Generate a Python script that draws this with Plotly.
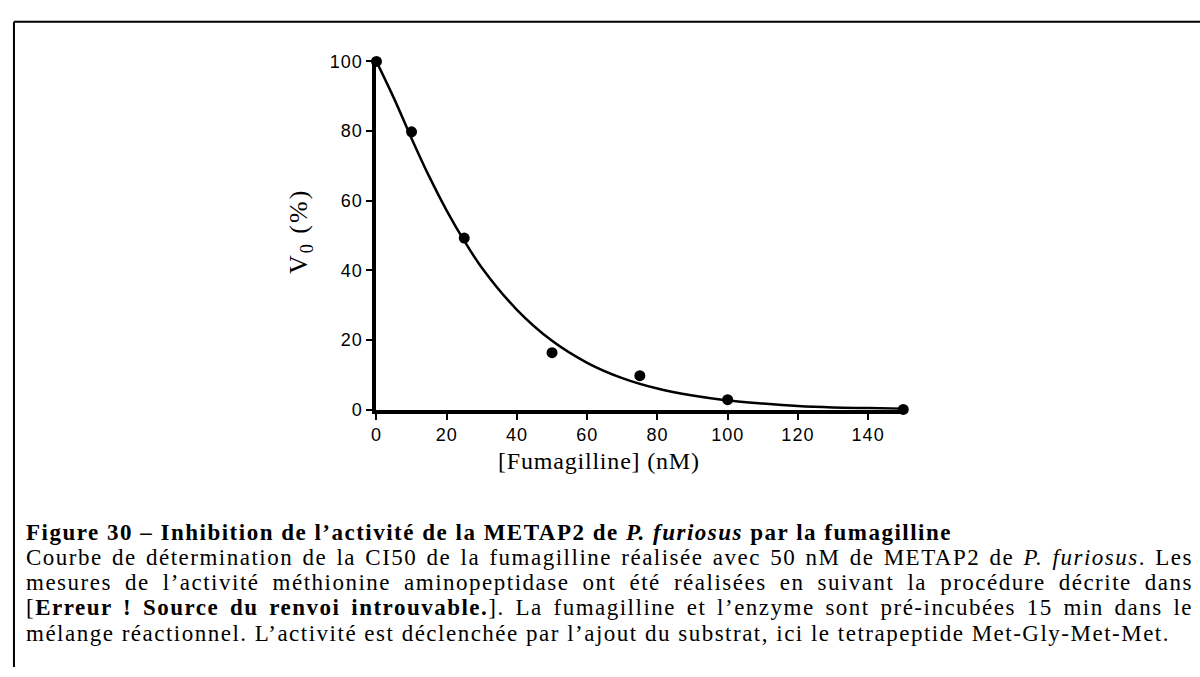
import plotly.graph_objects as go

# measured points
conc_nM = [0, 10, 25, 50, 75, 100, 150]
v0_pct = [100, 79.8, 49.3, 16.4, 9.8, 2.9, 0.1]

# fitted curve
fit_x = [0, 5, 10, 15, 20, 25, 30, 40, 50, 60, 70, 80, 90, 100, 110, 120, 130, 140, 150]
fit_y = [100, 89.4, 77.9, 67.0, 57.2, 48.5, 40.8, 28.7, 19.8, 13.5, 9.1, 6.1, 4.1, 2.7, 1.8, 1.1, 0.7, 0.5, 0.3]

x_ticks = [0, 20, 40, 60, 80, 100, 120, 140]
y_ticks = [0, 20, 40, 60, 80, 100]

x_title = "[Fumagilline] (nM)"
y_title = "V<sub>0</sub> (%)"

caption = [
    "<b>Figure 30 – Inhibition de l’activité de la METAP2 de <i>P. furiosus</i> par la fumagilline</b>",
    "Courbe de détermination de la CI50 de la fumagilline réalisée avec 50 nM de METAP2 de <i>P. furiosus</i>. Les",
    "mesures de l’activité méthionine aminopeptidase ont été réalisées en suivant la procédure décrite dans",
    "[<b>Erreur ! Source du renvoi introuvable.</b>]. La fumagilline et l’enzyme sont pré-incubées 15 min dans le",
    "mélange réactionnel. L’activité est déclenchée par l’ajout du substrat, ici le tetrapeptide Met-Gly-Met-Met.",
]

W, H = 1200, 677
SERIF = "Liberation Serif, Times New Roman, serif"
SANS = "Liberation Sans, Arial, sans-serif"
CAP_SIZE = 23
CAP_LEFT = 19


def px(x):
    return x / W


def py(y):
    return 1 - y / H


fig = go.Figure()

fig.add_trace(go.Scatter(x=fit_x, y=fit_y, mode='lines',
                         line=dict(color='black', width=2.5, shape='spline'),
                         cliponaxis=False, hoverinfo='skip'))
fig.add_trace(go.Scatter(x=conc_nM, y=v0_pct, mode='markers',
                         marker=dict(color='black', size=11),
                         cliponaxis=False))

annotations = [
    dict(text='<span style="letter-spacing:0.8px">%s</span>' % x_title,
         x=px(596), y=py(465), xref='paper', yref='paper',
         xanchor='center', yanchor='middle', showarrow=False,
         font=dict(family=SERIF, size=24, color='black')),
    dict(text='<span style="letter-spacing:2px">%s</span>' % y_title,
         x=px(297), y=py(228), xref='paper', yref='paper',
         xanchor='center', yanchor='middle', showarrow=False, textangle=-90,
         font=dict(family=SERIF, size=26, color='black')),
]
line_y = [538, 564, 590, 616, 642]
for txt, yy in zip(caption, line_y):
    annotations.append(dict(text=txt, x=px(CAP_LEFT), y=py(yy), xref='paper', yref='paper',
                            xanchor='left', yanchor='middle', align='left', showarrow=False,
                            font=dict(family=SERIF, size=CAP_SIZE, color='black')))

shapes = [
    dict(type='line', xref='paper', yref='paper', x0=px(9), x1=1, y0=py(12), y1=py(12),
         line=dict(color='black', width=2)),
    dict(type='line', xref='paper', yref='paper', x0=px(9), x1=px(9), y0=py(12), y1=0,
         line=dict(color='black', width=2)),
]

fig.update_layout(
    width=W, height=H,
    margin=dict(l=0, r=0, t=0, b=0),
    paper_bgcolor='white', plot_bgcolor='white',
    showlegend=False,
    annotations=annotations,
    shapes=shapes,
    xaxis=dict(domain=[px(373), px(902)], range=[0, 150],
               tickvals=x_ticks, ticks='outside', ticklen=6, tickwidth=1.5,
               tickcolor='black', showline=True, linewidth=4, linecolor='black',
               showgrid=False, zeroline=False,
               tickfont=dict(family=SANS, size=18, color='black')),
    yaxis=dict(domain=[py(412), py(53)], range=[0, 100],
               tickvals=y_ticks, ticks='outside', ticklen=6, tickwidth=1.5,
               tickcolor='black', showline=True, linewidth=4, linecolor='black',
               showgrid=False, zeroline=False,
               tickfont=dict(family=SANS, size=18, color='black')),
)

# body margin off; stretch the caption to the page width and justify lines 2-4
post = """
document.body.style.margin = '0';
var gd = document.getElementById('{plot_id}');
function cap(i) { return gd.querySelector('g.annotation[data-index="' + i + '"] text.annotation-text'); }
function right(t) { return t.getBoundingClientRect().right; }
var last = cap(6);
var ls = (1170 - right(last)) / last.textContent.length;
for (var i = 2; i <= 6; i++) { cap(i).style.letterSpacing = ls + 'px'; }
[3, 4, 5].forEach(function (i) {
    var t = cap(i);
    var gaps = t.textContent.split(' ').length - 1;
    t.style.wordSpacing = ((1193 - right(t)) / gaps) + 'px';
});
gd.querySelectorAll('.xtick text, .ytick text').forEach(function (t) { t.style.letterSpacing = '1px'; });
"""

fig.write_html("out.html", config={'displayModeBar': False}, post_script=post)
